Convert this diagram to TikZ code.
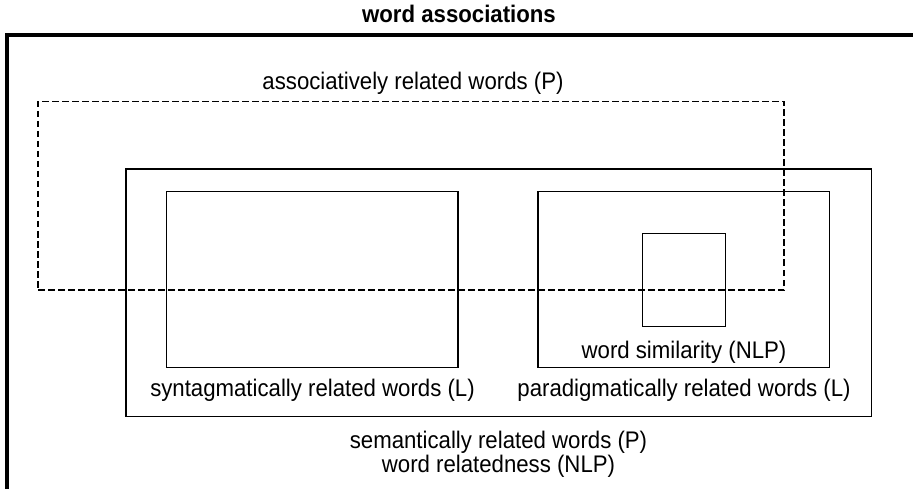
\documentclass[tikz,border=0pt]{standalone}
\usepackage{fontspec}
\setmainfont[FakeStretch=0.925]{Liberation Sans}
\begin{document}
\begin{tikzpicture}[x=1pt,y=-1pt,
  box/.style={draw, line width=1.3pt, inner sep=0pt, outer sep=0pt},
  dbox/.style={box, dash pattern=on 6.5pt off 3.5pt},
  lbl/.style={font=\fontsize{24}{28}\selectfont, inner sep=0pt, anchor=base},
  frame/.style={line width=3.5pt}]
\useasboundingbox (0,0) rectangle (913,489);
% outer open frame
\coordinate (fbl) at (7,495);
\coordinate (ftl) at (7,35);
\coordinate (ftr) at (920,35);
\draw[frame] (fbl) -- (ftl) -- (ftr);
\node[lbl, font=\fontsize{24}{28}\selectfont\bfseries] (title) at (459,23) {word associations};
% boxes
\node[dbox, minimum width=746pt, minimum height=188.5pt] (assoc) at (411,195.75) {};
\node[box, minimum width=745.5pt, minimum height=247.5pt] (sem) at (498.75,292.75) {};
\node[box, minimum width=291.5pt, minimum height=175.8pt] (syn) at (312.25,279.4) {};
\node[box, minimum width=291.3pt, minimum height=175.8pt] (par) at (683.65,279.4) {};
\node[box, minimum width=82.6pt, minimum height=93.4pt] (sim) at (684,280) {};
% labels
\node[lbl] (lassoc) at (413,90) {associatively related words (P)};
\node[lbl] (lsim) at (684,358) {word similarity (NLP)};
\node[lbl] (lsyn) at (312.5,396) {syntagmatically related words (L)};
\node[lbl] (lpar) at (684,396) {paradigmatically related words (L)};
\node[lbl] (lsem1) at (498.5,448) {semantically related words (P)};
\node[lbl] (lsem2) at (498.5,472) {word relatedness (NLP)};
\end{tikzpicture}
\end{document}
